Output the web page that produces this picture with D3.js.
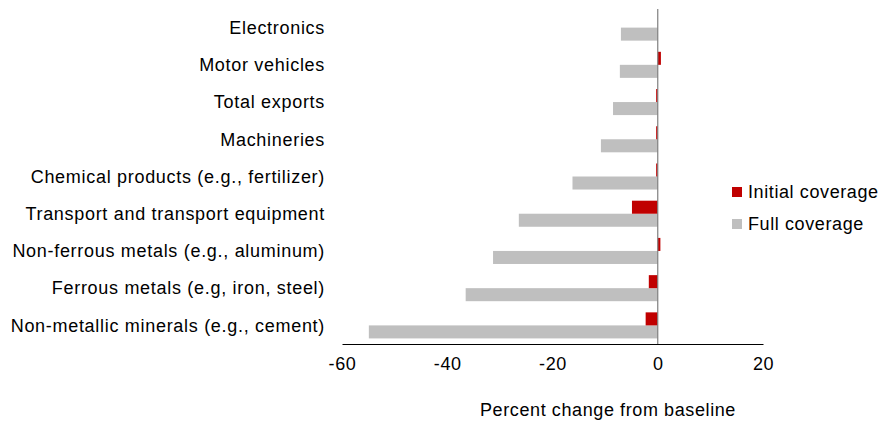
<!DOCTYPE html>
<html>
<head>
<meta charset="utf-8">
<script src="https://cdn.jsdelivr.net/npm/d3@7"></script>
<style>
  body { margin: 0; background: #fff; }
  text { font-family: "Liberation Sans", Arial, sans-serif; fill: #000; }
</style>
</head>
<body>
<div id="main"></div>
<script>
var categories = ["Electronics", "Motor vehicles", "Total exports", "Machineries",
  "Chemical products (e.g., fertilizer)", "Transport and transport equipment",
  "Non-ferrous metals (e.g., aluminum)", "Ferrous metals (e.g, iron, steel)",
  "Non-metallic minerals (e.g., cement)"];
var initialCoverage = [0, 0.6, -0.3, -0.3, -0.3, -4.9, 0.5, -1.7, -2.3];
var fullCoverage = [-7.0, -7.2, -8.5, -10.8, -16.2, -26.4, -31.3, -36.5, -54.9];
var xTicks = [-60, -40, -20, 0, 20];
var seriesNames = ["Initial coverage", "Full coverage"];
var colors = ["#c00000", "#bfbfbf"];

var width = 882, height = 421;
var svg = d3.select('#main').append('svg')
            .attr('width', width)
            .attr('height', height);

var x = d3.scaleLinear().domain([-60, 20]).range([342, 763]);
var y = d3.scaleBand().domain(categories).range([9, 344])
          .paddingInner(0.3).paddingOuter(0.15);
var bh = y.bandwidth() / 2;

// gray bars (below)
svg.selectAll('.full').data(categories).enter().append('rect')
   .attr('class', 'full')
   .attr('x', function(d, i) { return x(Math.min(0, fullCoverage[i])); })
   .attr('y', function(d) { return y(d) + bh; })
   .attr('width', function(d, i) { return Math.abs(x(fullCoverage[i]) - x(0)); })
   .attr('height', bh)
   .attr('fill', colors[1]);

// red bars (above)
svg.selectAll('.init').data(categories).enter().append('rect')
   .attr('class', 'init')
   .attr('x', function(d, i) { return x(Math.min(0, initialCoverage[i])); })
   .attr('y', function(d) { return y(d); })
   .attr('width', function(d, i) { return Math.abs(x(initialCoverage[i]) - x(0)); })
   .attr('height', bh)
   .attr('fill', colors[0]);

// zero line
svg.append('line')
   .attr('x1', x(0)).attr('x2', x(0))
   .attr('y1', 9).attr('y2', 344)
   .attr('stroke', '#7f7f7f').attr('stroke-width', 1.2);

// x axis
var xAxis = svg.append('g')
   .attr('transform', 'translate(0,344)')
   .call(d3.axisBottom(x).tickValues(xTicks).tickSize(0).tickPadding(13)
           .tickFormat(function(d) { return String(d); }));
xAxis.select('.domain').attr('stroke', '#000').attr('stroke-width', 1);
xAxis.selectAll('text')
   .style('font-family', '"Liberation Sans", Arial, sans-serif')
   .style('font-size', '18px').style('letter-spacing', '0.6px').attr('fill', '#000');

// category labels
svg.selectAll('.cat').data(categories).enter().append('text')
   .attr('class', 'cat')
   .attr('x', 325)
   .attr('y', function(d) { return y(d) + y.bandwidth() / 2; })
   .attr('dy', '0.35em')
   .attr('text-anchor', 'end')
   .style('font-size', '18px').style('letter-spacing', '0.7px')
   .text(function(d) { return d; });

// axis title
svg.append('text')
   .attr('x', 608).attr('y', 410).attr('dy', '0.35em')
   .attr('text-anchor', 'middle')
   .style('font-size', '18px').style('letter-spacing', '0.6px')
   .text("Percent change from baseline");

// legend
var legend = svg.selectAll('.leg').data(seriesNames).enter().append('g')
   .attr('class', 'leg')
   .attr('transform', function(d, i) { return 'translate(732,' + (192 + i * 32) + ')'; });
legend.append('rect')
   .attr('x', 0).attr('y', -5).attr('width', 10).attr('height', 10)
   .attr('fill', function(d, i) { return colors[i]; });
legend.append('text')
   .attr('x', 16).attr('y', 0).attr('dy', '0.35em')
   .style('font-size', '18px').style('letter-spacing', '0.6px')
   .text(function(d) { return d; });
</script>
</body>
</html>
